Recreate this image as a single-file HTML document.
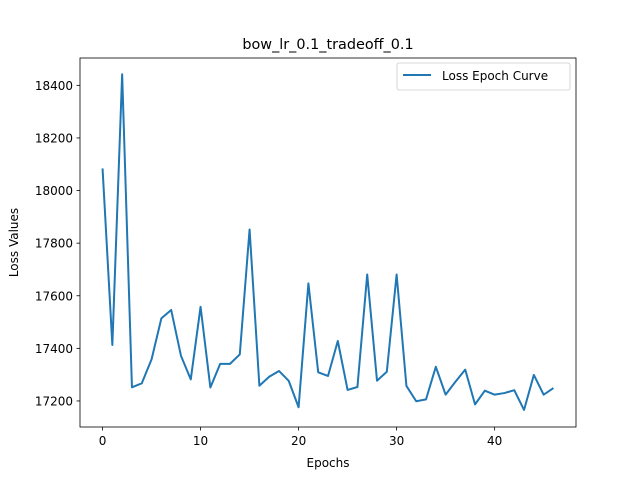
<!DOCTYPE html>
<html><head><meta charset="utf-8"><style>
body{margin:0;background:#fff}
svg{display:block;font-family:"DejaVu Sans","Liberation Sans",sans-serif}
</style></head><body>
<svg id="chart" width="640" height="480">
<rect x="0" y="0" width="640" height="480" fill="#fff"/>
<text x="328" y="49" text-anchor="middle" font-size="14.4">bow_lr_0.1_tradeoff_0.1</text>
<polyline id="line" fill="none" stroke="#1f77b4" stroke-width="2" stroke-linejoin="round"/>
<rect x="80" y="58" width="496" height="369" fill="none" stroke="#000" stroke-width="0.8"/>
<g id="xt" font-size="12"></g><g id="yt" font-size="12"></g>
<text x="328" y="467" text-anchor="middle" font-size="12">Epochs</text>
<text transform="translate(18,242.5) rotate(-90)" text-anchor="middle" font-size="12">Loss Values</text>
<g>
<rect x="397" y="63" width="173" height="27" rx="2" fill="#fff" stroke="#ccc" stroke-width="0.8"/>
<line x1="403" y1="75" x2="431" y2="75" stroke="#1f77b4" stroke-width="2"/>
<text x="442" y="80" font-size="12">Loss Epoch Curve</text>
</g>
</svg>
<script>
const lossValues=[18084,17413,18442,17252,17267,17358,17514,17546,17372,17282,17558,17251,17341,17341,17377,17852,17258,17292,17314,17276,17176,17647,17309,17295,17428,17242,17253,17681,17277,17311,17681,17257,17199,17206,17330,17224,17273,17319,17187,17239,17224,17230,17241,17166,17299,17224,17249];
const xTicks=[0,10,20,30,40];
const yTicks=[17200,17400,17600,17800,18000,18200,18400];
const L=80,R=576,T=58,B=427;
const xmin=-2.3,xmax=48.3,ymin=17101,ymax=18504;
const sx=v=>L+(v-xmin)/(xmax-xmin)*(R-L);
const sy=v=>B-(v-ymin)/(ymax-ymin)*(B-T);
const NS="http://www.w3.org/2000/svg";
const line=document.getElementById('line');
line.setAttribute('points',lossValues.map((v,i)=>sx(i).toFixed(2)+','+sy(v).toFixed(2)).join(' '));
const xt=document.getElementById('xt'),yt=document.getElementById('yt');
xTicks.forEach(t=>{
 const l=document.createElementNS(NS,'line');
 
 
 l.setAttribute('x1',sx(t));l.setAttribute('x2',sx(t));l.setAttribute('y1',B);l.setAttribute('y2',B+3.5);l.setAttribute('stroke','#000');l.setAttribute('stroke-width','0.8');xt.appendChild(l);
 const s=document.createElementNS(NS,'text');
 
 
 s.setAttribute('x',sx(t));s.setAttribute('y',B+18);s.setAttribute('text-anchor','middle');s.textContent=t;xt.appendChild(s);
});
yTicks.forEach(t=>{
 const l=document.createElementNS(NS,'line');
 
 
 l.setAttribute('x1',L-3.5);l.setAttribute('x2',L);l.setAttribute('y1',sy(t));l.setAttribute('y2',sy(t));l.setAttribute('stroke','#000');l.setAttribute('stroke-width','0.8');yt.appendChild(l);
 const s=document.createElementNS(NS,'text');
 
 
 s.setAttribute('x',L-7);s.setAttribute('y',sy(t)+4.5);s.setAttribute('text-anchor','end');s.textContent=t;yt.appendChild(s);
});
</script>
</body></html>
